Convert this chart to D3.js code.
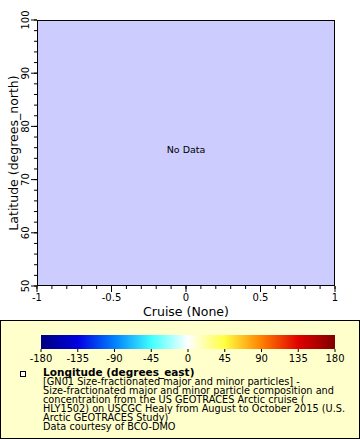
<!DOCTYPE html>
<html><head><meta charset="utf-8">
<script src="https://cdn.jsdelivr.net/npm/d3@7"></script>
<style>body{margin:0;background:#fff}svg{display:block;font-family:"DejaVu Sans",sans-serif}</style>
</head><body>
<script>
const xDomain = [-1, 1];
const yDomain = [50, 100];
const xTicks = [-1, -0.5, 0, 0.5, 1];
const xTickLabels = ["-1", "-0.5", "0", "0.5", "1"];
const yTicks = [50, 60, 70, 80, 90, 100];
const cbTicks = [-180, -135, -90, -45, 0, 45, 90, 135, 180];
const cbColors = ["#000080", "#0000e0", "#0080ff", "#40ffff", "#ffffff", "#ffff40", "#ff8000", "#e00000", "#800000"];
const legendLines = [
  "[GN01 Size-fractionated major and minor particles] -",
  "Size-fractionated major and minor particle composition and",
  "concentration from the US GEOTRACES Arctic cruise (",
  "HLY1502) on USCGC Healy from August to October 2015 (U.S.",
  "Arctic GEOTRACES Study)",
  "Data courtesy of BCO-DMO"
];

const W = 360, H = 440;
const svg = d3.select("body").append("svg").attr("width", W).attr("height", H);
const m = {l: 37, r: 335, t: 20, b: 286};
const x = d3.scaleLinear().domain(xDomain).range([m.l, m.r]);
const y = d3.scaleLinear().domain(yDomain).range([m.b, m.t]);

svg.append("rect").attr("x", m.l).attr("y", m.t).attr("width", m.r - m.l).attr("height", m.b - m.t)
  .attr("fill", "#ccccff");

// minor ticks
const xMinor = d3.range(-10, 11).map(d => d / 10);
svg.append("g").selectAll("line").data(xMinor).join("line")
  .attr("x1", d => x(d)).attr("x2", d => x(d)).attr("y1", m.b).attr("y2", m.b + 3)
  .attr("stroke", "#000");
const yMinor = d3.range(50, 101, 2);
svg.append("g").selectAll("line").data(yMinor).join("line")
  .attr("x1", m.l - 3).attr("x2", m.l).attr("y1", d => y(d)).attr("y2", d => y(d))
  .attr("stroke", "#000");

// major ticks
svg.append("g").selectAll("line").data(xTicks).join("line")
  .attr("x1", d => x(d)).attr("x2", d => x(d)).attr("y1", m.b).attr("y2", m.b + 6)
  .attr("stroke", "#000");
svg.append("g").selectAll("line").data(yTicks).join("line")
  .attr("x1", m.l - 6).attr("x2", m.l).attr("y1", d => y(d)).attr("y2", d => y(d))
  .attr("stroke", "#000");

svg.append("rect").attr("x", m.l + 0.5).attr("y", m.t + 0.5).attr("width", m.r - m.l - 1).attr("height", m.b - m.t - 1)
  .attr("fill", "none").attr("stroke", "#000");

svg.append("g").selectAll("text").data(xTicks).join("text")
  .attr("x", d => x(d)).attr("y", m.b + 15).attr("text-anchor", "middle")
  .attr("font-size", 10).text((d, i) => xTickLabels[i]);
svg.append("g").selectAll("text").data(yTicks).join("text")
  .attr("transform", d => `translate(${m.l - 8},${y(d)}) rotate(-90)`)
  .attr("text-anchor", "middle").attr("font-size", 10).text(d => d);

svg.append("text").attr("x", (m.l + m.r) / 2).attr("y", 316).attr("text-anchor", "middle")
  .attr("font-size", 12.5).text("Cruise (None)");
svg.append("text").attr("transform", `translate(18,${(m.t + m.b) / 2}) rotate(-90)`)
  .attr("text-anchor", "middle").attr("font-size", 12.5).text("Latitude (degrees_north)");

svg.append("text").attr("x", x(0)).attr("y", y(75)).attr("text-anchor", "middle")
  .attr("font-size", 9.5).text("No Data");

// legend box
svg.append("rect").attr("x", 0.5).attr("y", 320.5).attr("width", W - 1).attr("height", 118)
  .attr("fill", "#ffffcc").attr("stroke", "#000");

// colorbar
const cb = d3.scaleLinear().domain([-180, 180]).range([41, 335]);
const defs = svg.append("defs");
const grad = defs.append("linearGradient").attr("id", "cbg").attr("x1", 0).attr("x2", 1).attr("y1", 0).attr("y2", 0);
grad.selectAll("stop").data(cbColors).join("stop")
  .attr("offset", (d, i) => i / (cbColors.length - 1)).attr("stop-color", d => d);
svg.append("rect").attr("x", cb(-180)).attr("y", 335).attr("width", cb(180) - cb(-180)).attr("height", 14)
  .attr("fill", "url(#cbg)");
svg.append("g").selectAll("line").data(cbTicks).join("line")
  .attr("x1", d => cb(d)).attr("x2", d => cb(d)).attr("y1", 349).attr("y2", 352).attr("stroke", "#000");
svg.append("g").selectAll("text").data(cbTicks).join("text")
  .attr("x", d => cb(d)).attr("y", 362).attr("text-anchor", "middle").attr("font-size", 10).text(d => d);

svg.append("rect").attr("x", 20.5).attr("y", 371.5).attr("width", 5).attr("height", 5)
  .attr("fill", "#fff").attr("stroke", "#000");
svg.append("text").attr("x", 43).attr("y", 376).attr("font-size", 10.5).attr("font-weight", "bold")
  .text("Longitude (degrees_east)");
svg.append("g").selectAll("text").data(legendLines).join("text")
  .attr("x", 43).attr("y", (d, i) => 385 + i * 9).attr("font-size", 9.75).text(d => d);
</script>
</body></html>
